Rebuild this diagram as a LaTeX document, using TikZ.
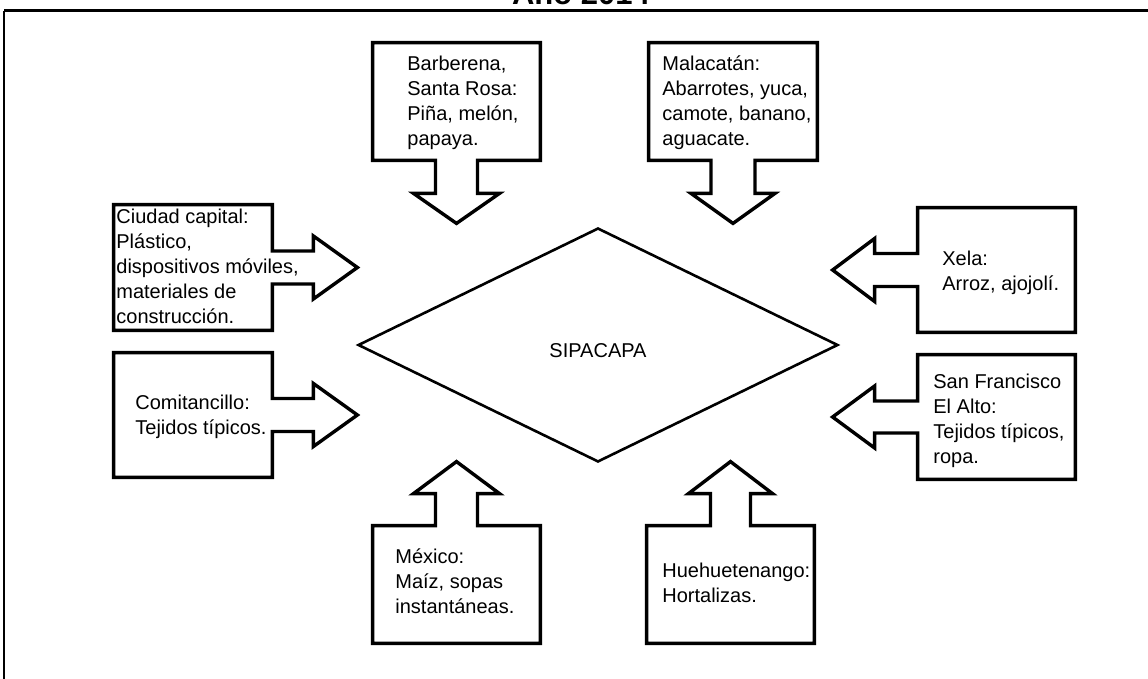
\documentclass[tikz,border=0pt]{standalone}
\usepackage{fontspec}
\setmainfont{Liberation Sans}
\usetikzlibrary{shapes,calc}

\begin{document}
\begin{tikzpicture}[x=0.5pt,y=-0.5pt,
    outline/.style={draw, line width=1.7pt, line join=miter},
    txt/.style={anchor=north west, align=left, inner sep=0pt,
                font=\fontsize{10}{12.5}\selectfont}]

      \useasboundingbox (0,0) rectangle (1148,679);

      % title and frame
      \node[anchor=base, inner sep=0pt,
            font=\bfseries\fontsize{15.5}{18}\selectfont] (title) at (581,5) {Año 2014};
      \draw[line width=1.5pt] (4,11) -- (1148,11);
      \draw[line width=0.8pt] (4,11) -- (4,679);

      \node[diamond,
            draw,
            line width=1.3pt,
            inner sep=0pt,
            minimum width = 240pt,
            minimum height = 117pt] (sip) at (598,345) {};
      \node[font=\fontsize{10}{12.5}\selectfont] at ([yshift=-3pt]sip.center) {SIPACAPA};

      % boxes
      \node[rectangle,
            minimum width = 83.5pt,
            minimum height = 58.5pt] (bar) at (456.5,101.5) {};
      \node[rectangle,
            minimum width = 84pt,
            minimum height = 58.5pt] (mal) at (733,101.5) {};
      \node[rectangle,
            minimum width = 79pt,
            minimum height = 62.5pt] (ciu) at (193,267.5) {};
      \node[rectangle,
            minimum width = 79pt,
            minimum height = 62pt] (com) at (193,415) {};
      \node[rectangle,
            minimum width = 78.5pt,
            minimum height = 62pt] (xela) at (996.5,270) {};
      \node[rectangle,
            minimum width = 78.5pt,
            minimum height = 62pt] (sfe) at (996.5,417) {};
      \node[rectangle,
            minimum width = 83.5pt,
            minimum height = 58.5pt] (mex) at (456.5,584.5) {};
      \node[rectangle,
            minimum width = 83.5pt,
            minimum height = 58.5pt] (hue) at (730.5,584.5) {};

      % down arrows
      \draw[outline] (bar.south west) -- (bar.north west) -- (bar.north east) -- (bar.south east)
        -- ($(bar.south)+(21,0)$) -- ++(0,33) -- ++(22,0) -- ++(-43,30) -- ++(-43,-30)
        -- ++(22,0) -- ++(0,-33) -- cycle;
      \draw[outline] (mal.south west) -- (mal.north west) -- (mal.north east) -- (mal.south east)
        -- ($(mal.south)+(22,0)$) -- ++(0,33) -- ++(20,0) -- ++(-42,30) -- ++(-42,-30)
        -- ++(20,0) -- ++(0,-33) -- cycle;
      % right arrows
      \draw[outline] (ciu.north east) -- (ciu.north west) -- (ciu.south west) -- (ciu.south east)
        -- ($(ciu.east)+(0,16.5)$) -- ++(41,0) -- ++(0,15) -- ++(44,-31.5) -- ++(-44,-31.5)
        -- ++(0,15) -- ++(-41,0) -- cycle;
      \draw[outline] (com.north east) -- (com.north west) -- (com.south west) -- (com.south east)
        -- ($(com.east)+(0,16.5)$) -- ++(41,0) -- ++(0,15) -- ++(44,-31.5) -- ++(-44,-31.5)
        -- ++(0,15) -- ++(-41,0) -- cycle;
      % left arrows
      \draw[outline] (xela.north west) -- (xela.north east) -- (xela.south east) -- (xela.south west)
        -- ($(xela.west)+(0,16.5)$) -- ++(-43,0) -- ++(0,15) -- ++(-42,-31.5) -- ++(42,-31.5)
        -- ++(0,15) -- ++(43,0) -- cycle;
      \draw[outline] (sfe.north west) -- (sfe.north east) -- (sfe.south east) -- (sfe.south west)
        -- ($(sfe.west)+(0,16)$) -- ++(-43,0) -- ++(0,15) -- ++(-42,-31) -- ++(42,-31)
        -- ++(0,15) -- ++(43,0) -- cycle;
      % up arrows
      \draw[outline] (mex.north west) -- (mex.south west) -- (mex.south east) -- (mex.north east)
        -- ($(mex.north)+(21,0)$) -- ++(0,-32) -- ++(22,0) -- ++(-43,-32) -- ++(-43,32)
        -- ++(22,0) -- ++(0,32) -- cycle;
      \draw[outline] (hue.north west) -- (hue.south west) -- (hue.south east) -- (hue.north east)
        -- ($(hue.north)+(20,0)$) -- ++(0,-32) -- ++(22,0) -- ++(-42,-32) -- ++(-42,32)
        -- ++(22,0) -- ++(0,32) -- cycle;

      % texts
      \node[txt] (barT) at (407,55.4) {Barberena,\\Santa Rosa:\\Piña, melón,\\papaya.};
      \node[txt] (malT) at (662,55.4) {Malacatán:\\Abarrotes, yuca,\\camote, banano,\\aguacate.};
      \node[txt] (ciuT) at (116,208.4) {Ciudad capital:\\Plástico,\\dispositivos móviles,\\materiales de\\construcción.};
      \node[txt] (comT) at (135,394.4) {Comitancillo:\\Tejidos típicos.};
      \node[txt] (xelaT) at (942,250.4) {Xela:\\Arroz, ajojolí.};
      \node[txt] (sfeT) at (933,373.4) {San Francisco\\El Alto:\\Tejidos típicos,\\ropa.};
      \node[txt] (mexT) at (395,548.4) {México:\\Maíz, sopas\\instantáneas.};
      \node[txt] (hueT) at (662,562.4) {Huehuetenango:\\Hortalizas.};

\end{tikzpicture}
\end{document}
